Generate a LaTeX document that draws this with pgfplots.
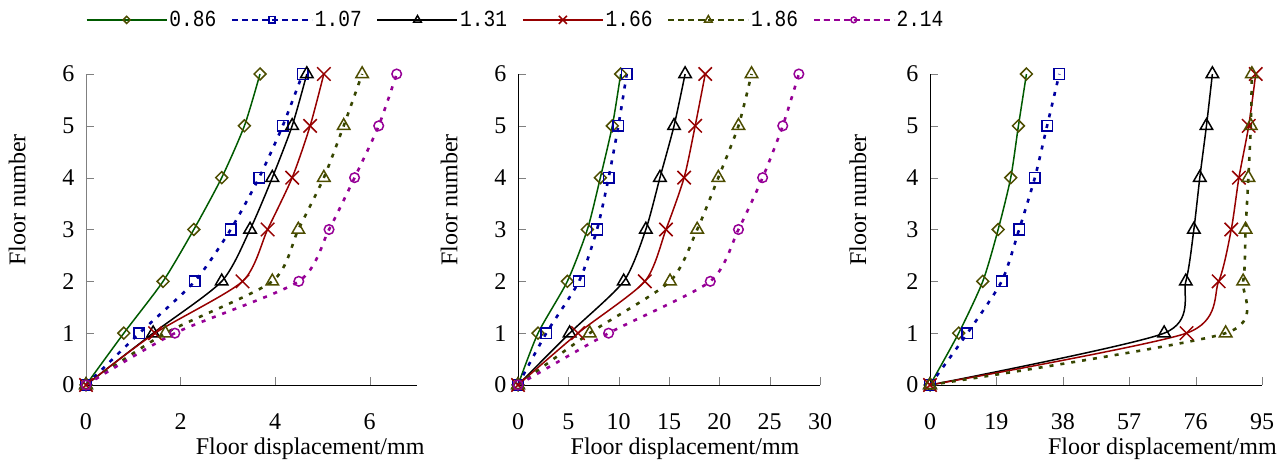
\documentclass[border=0pt]{standalone}
\usepackage{pgfplots}
\pgfplotsset{compat=1.18}
\usepackage{pgfplotstable}
\usepackage{fontspec}
\setmainfont{Liberation Serif}
\newfontfamily\legfont[FakeStretch=0.85]{Liberation Mono}

\definecolor{dkgreen}{RGB}{0,90,0}
\definecolor{olivem}{RGB}{77,77,0}
\definecolor{navy}{RGB}{0,0,160}
\definecolor{dkred}{RGB}{150,0,0}
\definecolor{olivel}{RGB}{55,70,0}
\definecolor{purp}{RGB}{150,0,150}

% floor, then one column per series
\pgfplotstableread{
floor a b c d e f
0 0 0 0 0 0 0
1 0.80 1.13 1.42 1.46 1.68 1.88
2 1.63 2.30 2.87 3.31 3.94 4.50
3 2.28 3.06 3.47 3.84 4.49 5.14
4 2.87 3.66 3.94 4.36 5.03 5.68
5 3.35 4.16 4.36 4.74 5.45 6.19
6 3.68 4.58 4.67 5.03 5.84 6.57
}\panelA
\pgfplotstableread{
floor a b c d e f
0 0 0 0 0 0 0
1 1.99 2.81 5.13 5.96 7.12 9.0
2 4.90 6.06 10.5 12.6 15.1 19.1
3 6.89 7.85 12.7 14.7 17.8 21.9
4 8.18 9.0 14.1 16.5 19.9 24.3
5 9.37 9.97 15.5 17.6 21.9 26.3
6 10.2 10.8 16.6 18.6 23.2 27.9
}\panelB
\pgfplotstableread{
floor a b c d e
0 0 0 0 0 0
1 8.2 10.7 67.0 73.4 84.6
2 15.1 20.5 73.2 82.6 89.6
3 19.5 25.5 75.5 86.2 90.3
4 23.1 30.0 77.2 88.4 91.1
5 25.3 33.5 79.1 91.2 91.8
6 27.6 37.0 80.8 93.2 92.1
}\panelC

\pgfplotsset{
  floorax/.style={
    scale only axis, height=311pt, anchor=south west,
    ymin=0, ymax=6, ytick={0,...,6}, xmin=0,
    axis x line*=bottom, axis y line*=left, clip=false,
    tick align=inside, major tick length=8pt,
    tick label style={font=\fontsize{24}{26}\selectfont},
    label style={font=\fontsize{24}{26}\selectfont},
    /pgf/number format/assume math mode=true,
    xlabel={Floor displacement/mm}, ylabel={Floor number},
    xticklabel style={yshift=-25pt}, yticklabel style={xshift=-8pt},
    every axis plot/.append style={smooth, tension=0.42, line width=1.5pt},
  },
  dotty/.style={dash pattern=on 4pt off 7pt, line width=2.6pt,
    legend image post style={line width=1.5pt, dash pattern=on 6pt off 4pt}},
  s086/.style={color=dkgreen, mark=square, mark size=4.2pt,
    mark options={solid, rotate=45, draw=olivem, fill=white, line width=1.5pt}},
  s107/.style={color=navy, dotty,
    mark=square, mark size=5.3pt, mark options={solid, fill=white, line width=1.5pt}},
  s131/.style={color=black, mark=triangle, mark size=7.2pt,
    mark options={solid, fill=white, line width=1.5pt}},
  s166/.style={color=dkred, mark=x, mark size=9.5pt,
    mark options={solid, line width=1.5pt}},
  s186/.style={color=olivel, dotty,
    mark=triangle, mark size=7.2pt, mark options={solid, draw=olivem, fill=white, line width=1.5pt}},
  s214/.style={color=purp, dotty,
    mark=o, mark size=4.8pt, mark options={solid, fill=white, line width=1.5pt}},
}

\begin{document}
\begin{tikzpicture}
\useasboundingbox (0,0) rectangle (1288pt,465pt);

\begin{axis}[floorax, at={(86pt,80pt)}, width=331pt,
    xmax=7, xtick={0,2,4,6},
    y axis line style={gray},
    ylabel style={at={(axis description cs:-0.208,0.595)}, anchor=center},
    xlabel style={at={(axis description cs:0.677,-0.206)}, anchor=center},
    legend columns=6,
    legend style={draw=none, fill=none, font=\legfont\fontsize{23}{24}\selectfont,
      at={(axis description cs:-0.01,1.174)}, anchor=west,
      /tikz/every even column/.append style={column sep=13pt}},
    legend image code/.code={\draw[mark repeat=2,mark phase=2,#1,
      /tikz/every mark/.append style={scale=0.6}]
      plot coordinates {(0pt,0pt)(40pt,0pt)(80pt,0pt)};},
  ]
  \addplot[s086] table[x=a, y=floor] {\panelA};
  \addplot[s107] table[x=b, y=floor] {\panelA};
  \addplot[s131] table[x=c, y=floor] {\panelA};
  \addplot[s166] table[x=d, y=floor] {\panelA};
  \addplot[s186] table[x=e, y=floor] {\panelA};
  \addplot[s214] table[x=f, y=floor] {\panelA};
  \legend{0.86, 1.07, 1.31, 1.66, 1.86, 2.14}
\end{axis}

\begin{axis}[floorax, at={(518pt,80pt)}, width=302pt,
    xmax=30, xtick={0,5,...,30},
    ylabel style={at={(axis description cs:-0.228,0.595)}, anchor=center},
    xlabel style={at={(axis description cs:0.553,-0.206)}, anchor=center},
  ]
  \addplot[s086] table[x=a, y=floor] {\panelB};
  \addplot[s107] table[x=b, y=floor] {\panelB};
  \addplot[s131] table[x=c, y=floor] {\panelB};
  \addplot[s166] table[x=d, y=floor] {\panelB};
  \addplot[s186] table[x=e, y=floor] {\panelB};
  \addplot[s214] table[x=f, y=floor] {\panelB};
\end{axis}

\begin{axis}[floorax, at={(930pt,80pt)}, width=332pt,
    xmax=95, xtick={0,19,...,95},
    ylabel style={at={(axis description cs:-0.217,0.595)}, anchor=center},
    xlabel style={at={(axis description cs:0.70,-0.206)}, anchor=center},
  ]
  \addplot[s086] table[x=a, y=floor] {\panelC};
  \addplot[s107] table[x=b, y=floor] {\panelC};
  \addplot[s131] table[x=c, y=floor] {\panelC};
  \addplot[s166] table[x=d, y=floor] {\panelC};
  \addplot[s186] table[x=e, y=floor] {\panelC};
\end{axis}
\end{tikzpicture}
\end{document}
